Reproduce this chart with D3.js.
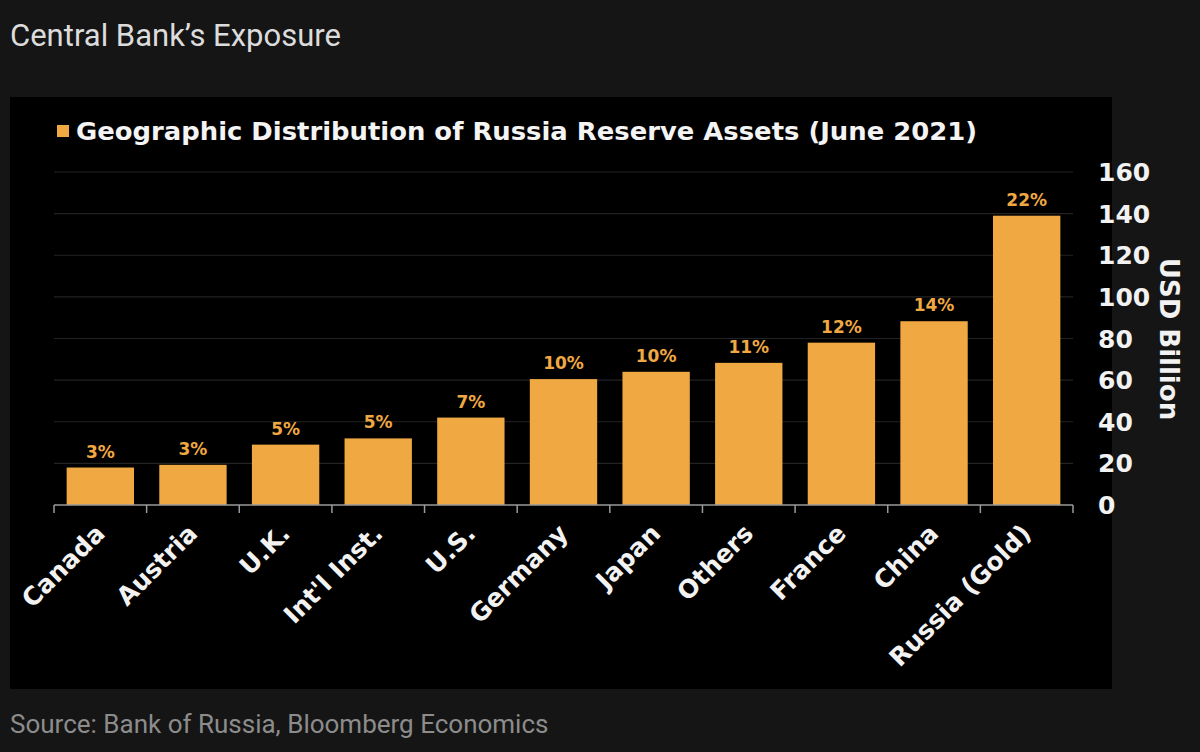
<!DOCTYPE html>
<html>
<head>
<meta charset="utf-8">
<script src="https://cdn.jsdelivr.net/npm/d3@7"></script>
<style>
  html, body { margin: 0; padding: 0; background: #151515; }
  svg { display: block; }
</style>
</head>
<body>
<svg id="chart" width="1200" height="752"></svg>
<script>
// data
const categories = ['Canada', 'Austria', 'U.K.', "Int'l Inst.", 'U.S.', 'Germany', 'Japan', 'Others', 'France', 'China', 'Russia (Gold)']
const values = [18, 19.3, 29, 32, 42, 60.5, 64, 68.3, 78, 88.3, 139]
const shares = ['3%', '3%', '5%', '5%', '7%', '10%', '10%', '11%', '12%', '14%', '22%']
const yTicks = [0, 20, 40, 60, 80, 100, 120, 140, 160]

const W = 1200, H = 752
const orange = '#F0A843'
const boldFont = '"DejaVu Sans", Verdana, sans-serif'
const lightFont = 'Roboto, "Open Sans", sans-serif'

const svg = d3.select('#chart')

svg.append('rect')
  .attr('x', 0).attr('y', 0).attr('width', W).attr('height', H)
  .attr('fill', '#151515')

svg.append('text')
  .attr('x', 10).attr('y', 46)
  .attr('font-family', lightFont)
  .attr('font-size', 31)
  .attr('fill', '#dcdcdc')
  .text('Central Bank\u2019s Exposure')

svg.append('text')
  .attr('x', 10).attr('y', 733)
  .attr('font-family', lightFont)
  .attr('font-size', 26)
  .attr('fill', '#8c8c8c')
  .text('Source: Bank of Russia, Bloomberg Economics')

// black chart panel
svg.append('rect')
  .attr('x', 10).attr('y', 97).attr('width', 1102).attr('height', 592)
  .attr('fill', '#000')

// legend
svg.append('rect')
  .attr('x', 57).attr('y', 125).attr('width', 12).attr('height', 12)
  .attr('fill', orange)
svg.append('text')
  .attr('x', 76).attr('y', 140)
  .attr('font-family', boldFont)
  .attr('font-weight', 'bold')
  .attr('font-size', 24)
  .attr('textLength', 901)
  .attr('lengthAdjust', 'spacingAndGlyphs')
  .attr('fill', '#f4f4f4')
  .text('Geographic Distribution of Russia Reserve Assets (June 2021)')

const x = d3.scaleBand()
  .domain(categories)
  .range([54, 1073])
  .paddingInner(0.273)
  .paddingOuter(0.1365)

const y = d3.scaleLinear()
  .domain([0, 160])
  .range([505, 172])

// gridlines
svg.append('g')
  .selectAll('line')
  .data(yTicks.filter(d => d > 0))
  .join('line')
  .attr('x1', 54).attr('x2', 1073)
  .attr('y1', d => y(d)).attr('y2', d => y(d))
  .attr('stroke', '#232323')
  .attr('stroke-width', 1.2)

// bars
svg.append('g')
  .selectAll('rect')
  .data(values)
  .join('rect')
  .attr('x', (d, i) => x(categories[i]))
  .attr('width', x.bandwidth())
  .attr('y', d => y(d))
  .attr('height', d => y(0) - y(d))
  .attr('fill', orange)

// share labels
svg.append('g')
  .selectAll('text')
  .data(values)
  .join('text')
  .attr('x', (d, i) => x(categories[i]) + x.bandwidth() / 2)
  .attr('y', d => y(d) - 10)
  .attr('text-anchor', 'middle')
  .attr('font-family', boldFont)
  .attr('font-weight', 'bold')
  .attr('font-size', 17)
  .attr('fill', orange)
  .text((d, i) => shares[i])

// x axis: line + ticks at band edges
const edges = categories.map(c => x(c) - x.step() * x.paddingInner() / 2)
edges.push(1073)
const xAxisG = svg.append('g').attr('stroke', '#9a9a9a').attr('stroke-width', 1.5)
xAxisG.append('line')
  .attr('x1', 54).attr('x2', 1073)
  .attr('y1', y(0)).attr('y2', y(0))
xAxisG.selectAll('line.tick')
  .data(edges)
  .join('line')
  .attr('class', 'tick')
  .attr('x1', d => d).attr('x2', d => d)
  .attr('y1', y(0)).attr('y2', y(0) + 8)

// x labels, rotated
svg.append('g')
  .selectAll('text')
  .data(categories)
  .join('text')
  .attr('transform', d => `translate(${x(d) + x.bandwidth() / 2 + 6}, ${y(0) + 30}) rotate(-45)`)
  .attr('text-anchor', 'end')
  .attr('font-family', boldFont)
  .attr('font-weight', 'bold')
  .attr('font-size', 25)
  .attr('fill', '#f2f2f2')
  .text(d => d)

// y axis labels on the right
svg.append('g')
  .selectAll('text')
  .data(yTicks)
  .join('text')
  .attr('x', 1098)
  .attr('y', d => y(d))
  .attr('dy', '0.36em')
  .attr('font-family', boldFont)
  .attr('font-weight', 'bold')
  .attr('font-size', 25)
  .attr('fill', '#f2f2f2')
  .text(d => d)

svg.append('text')
  .attr('transform', 'translate(1160, 339) rotate(90)')
  .attr('text-anchor', 'middle')
  .attr('font-family', boldFont)
  .attr('font-weight', 'bold')
  .attr('font-size', 26)
  .attr('fill', '#f2f2f2')
  .text('USD Billion')
</script>
</body>
</html>
